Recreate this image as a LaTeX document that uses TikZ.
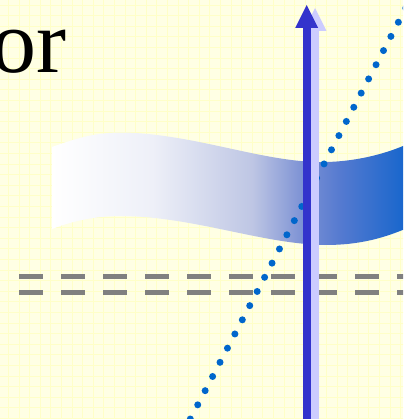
\documentclass[tikz,border=0pt]{standalone}
\usepackage{fontspec}
\setmainfont{Liberation Serif}
\usepackage{tikz}
\usetikzlibrary{arrows.meta, positioning}

\definecolor{paper}{RGB}{255,255,228}
\definecolor{paperline}{RGB}{255,255,200}
\definecolor{fadeA}{RGB}{238,240,248}
\definecolor{fadeB}{RGB}{190,198,228}
\definecolor{fadeC}{RGB}{125,146,212}
\definecolor{fadeD}{RGB}{85,122,208}
\definecolor{ribbonblue}{RGB}{17,100,204}
\definecolor{dotblue}{RGB}{0,102,204}
\definecolor{arrowdark}{RGB}{51,51,204}
\definecolor{arrowlight}{RGB}{204,204,255}

\pgfdeclarehorizontalshading{ribbonfade}{100bp}{color(0bp)=(white); color(25bp)=(white);
  color(38.9bp)=(fadeA); color(52.8bp)=(fadeB); color(59.7bp)=(fadeC); color(65bp)=(fadeD);
  color(75bp)=(ribbonblue); color(100bp)=(ribbonblue)}

\tikzset{
  gridline/.style={draw=paperline, line width=0.8pt},
  dashline/.style={draw=gray, line width=5pt, dash pattern=on 24pt off 18pt},
  ribbon/.style={shading=ribbonfade},
  dotline/.style={draw=dotblue, line width=7pt, line cap=round, dash pattern=on 0pt off 16pt},
  bigarrow/.style={line width=8pt, -{Triangle[width=23pt, length=23pt, line width=0pt]}},
}

\begin{document}
\begin{tikzpicture}[x=1pt, y=-1pt]
  \useasboundingbox (0,0) rectangle (412,419);
  \begin{scope}
  \clip (0,0) rectangle (403,419);
  \fill[paper] (0,0) rectangle (403,419);
  \draw[gridline, xshift=8.4pt, yshift=-5pt] (-20,-20) grid[step=10.6pt] (420,440);

  % double dashed line
  \coordinate (dashA) at (19,276.7);
  \coordinate (dashB) at (412,276.7);
  \coordinate (dashC) at (19,292.3);
  \coordinate (dashD) at (412,292.3);
  \draw[dashline] (dashA) -- (dashB);
  \draw[dashline] (dashC) -- (dashD);

  % wavy band
  \shade[ribbon] (52,147) .. controls (85,135) and (105,131) .. (135,133)
    .. controls (200,137) and (260,160) .. (315,162)
    .. controls (350,163) and (385,155) .. (412,142)
    -- (412,226) .. controls (385,238) and (360,245) .. (325,245)
    .. controls (260,244) and (190,215) .. (115,216)
    .. controls (90,217) and (70,222) .. (52,229) -- cycle;

  % dotted slope
  \coordinate (dotfoot) at (190.3,419);
  \coordinate (dottop) at (413.2,-6.1);
  \draw[dotline] (dotfoot) -- (dottop);

  % arrow and its shadow
  \coordinate (shadowfoot) at (315,419);
  \coordinate (shadowtip) at (315,8);
  \coordinate (arrowfoot) at (306.7,419);
  \coordinate (arrowtip) at (306.7,5);
  \draw[bigarrow, arrowlight] (shadowfoot) -- (shadowtip);
  \draw[bigarrow, arrowdark] (arrowfoot) -- (arrowtip);
  \end{scope}

  \node (word) [anchor=base east, inner sep=0pt, font=\fontsize{90}{90}\selectfont] at (67,73) {or};
\end{tikzpicture}
\end{document}
